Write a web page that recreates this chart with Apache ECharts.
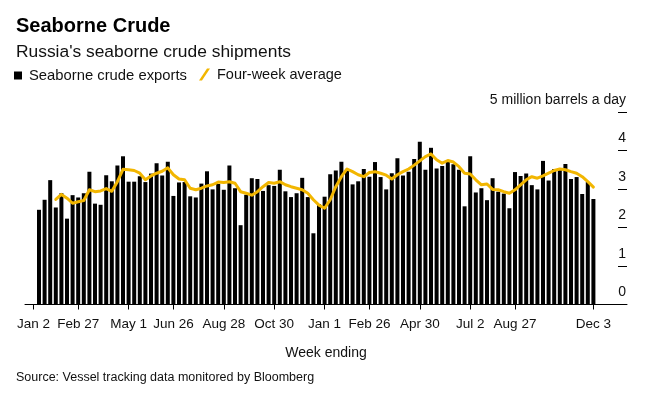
<!DOCTYPE html>
<html>
<head>
<meta charset="utf-8">
<script src="https://cdn.jsdelivr.net/npm/echarts@6/dist/echarts.min.js"></script>
<style>
html,body{margin:0;padding:0;background:#fff;}
#chart{width:648px;height:395px;}
</style>
</head>
<body>
<div id="chart"></div>
<script>
// Week offsets (from Jan 2, 2022) at which date labels are shown
var tickWeeks = [0, 8, 17, 25, 34, 43, 52, 60, 69, 78, 86, 100];
var tickLabels = ['Jan 2', 'Feb 27', 'May 1', 'Jun 26', 'Aug 28', 'Oct 30', 'Jan 1', 'Feb 26', 'Apr 30', 'Jul 2', 'Aug 27', 'Dec 3'];

// Weekly seaborne crude exports (million barrels a day), weeks ending Jan 9 2022 .. Dec 3 2023
var exportsData = [
  2.46, 2.72, 3.23, 2.52, 2.89, 2.23, 2.84, 2.78, 2.89, 3.45,
  2.62, 2.59, 3.36, 3.20, 3.61, 3.85, 3.19, 3.19, 3.33, 3.18,
  3.40, 3.67, 3.35, 3.71, 2.82, 3.17, 3.18, 2.81, 2.78, 3.14,
  3.46, 2.99, 3.13, 2.98, 3.61, 3.02, 2.06, 2.85, 3.28, 3.26,
  2.95, 3.10, 3.08, 3.50, 2.94, 2.79, 2.89, 3.29, 2.79, 1.85,
  2.61, 2.80, 3.38, 3.48, 3.71, 3.50, 3.12, 3.20, 3.52, 3.32,
  3.70, 3.31, 2.99, 3.41, 3.80, 3.35, 3.45, 3.78, 4.23, 3.50,
  4.07, 3.53, 3.60, 3.74, 3.64, 3.50, 2.55, 3.85, 2.91, 3.02,
  2.71, 3.28, 2.93, 2.88, 2.50, 3.44, 3.34, 3.40, 3.10, 2.99,
  3.73, 3.22, 3.52, 3.50, 3.65, 3.26, 3.31, 2.87, 3.18, 2.74
];

// Four-week average (starts at the 4th week)
var avgData = [
  null, null, null, 2.73, 2.86, 2.76, 2.63, 2.67, 2.70, 2.98,
  2.93, 2.95, 3.01, 2.94, 3.19, 3.51, 3.50, 3.48, 3.41, 3.24,
  3.34, 3.41, 3.46, 3.55, 3.37, 3.26, 3.24, 3.02, 2.98, 3.02,
  3.08, 3.11, 3.18, 3.17, 3.19, 3.15, 2.93, 2.89, 2.84, 2.93,
  3.06, 3.17, 3.15, 3.19, 3.11, 3.06, 3.02, 2.98, 2.89, 2.72,
  2.58, 2.50, 2.72, 3.06, 3.32, 3.52, 3.45, 3.37, 3.32, 3.43,
  3.45, 3.41, 3.36, 3.26, 3.37, 3.45, 3.52, 3.62, 3.73, 3.84,
  3.91, 3.76, 3.67, 3.74, 3.70, 3.58, 3.41, 3.39, 3.24, 3.11,
  3.13, 2.99, 2.98, 2.93, 2.89, 2.98, 3.11, 3.24, 3.32, 3.28,
  3.34, 3.41, 3.48, 3.52, 3.50, 3.45, 3.41, 3.32, 3.19, 3.05
];

var FONT = 'Liberation Sans, Arial, Helvetica, sans-serif';

var barSeriesData = exportsData.map(function (v, i) { return [i + 1, v]; });
var lineSeriesData = avgData.map(function (v, i) { return [i + 1, v]; });

var chart = echarts.init(document.getElementById('chart'), null, { renderer: 'canvas' });
chart.setOption({
  animation: false,
  backgroundColor: '#fff',
  textStyle: { fontFamily: FONT },
  title: [
    { text: 'Seaborne Crude', left: 11, top: 11,
      textStyle: { fontSize: 20, fontWeight: 'bold', color: '#000', fontFamily: FONT } },
    { text: "Russia's seaborne crude shipments", left: 11, top: 39,
      textStyle: { fontSize: 17.4, fontWeight: 'normal', color: '#111', fontFamily: FONT } },
    { text: 'Source: Vessel tracking data monitored by Bloomberg', left: 11, top: 366,
      textStyle: { fontSize: 12.5, fontWeight: 'normal', color: '#111', fontFamily: FONT } }
  ],
  legend: [
    { data: ['Seaborne crude exports'], left: 14, top: 68, icon: 'rect',
      itemWidth: 8, itemHeight: 8, padding: 0,
      textStyle: { fontSize: 14.8, color: '#111', fontFamily: FONT, padding: [0, 0, 0, 2] } },
    { data: ['Four-week average'], left: 199, top: 67,
      icon: 'path://M8,0 L11,0 L3,12 L0,12 Z',
      itemWidth: 11, itemHeight: 12, padding: 0,
      textStyle: { fontSize: 14.5, color: '#111', fontFamily: FONT, padding: [0, 0, 0, 2] } }
  ],
  grid: { left: 25, right: 21, top: 112, bottom: 90.5, containLabel: false, outerBoundsMode: 'none' },
  xAxis: {
    type: 'value',
    min: -1.5,
    max: 106,
    name: 'Week ending',
    nameLocation: 'middle',
    nameGap: 42,
    nameTextStyle: { fontSize: 14, color: '#111', fontFamily: FONT },
    splitLine: { show: false },
    axisLine: { show: true, onZero: false, lineStyle: { color: '#000', width: 1 } },
    axisTick: { show: true, length: 5, customValues: tickWeeks, lineStyle: { color: '#000' } },
    axisLabel: {
      customValues: tickWeeks,
      margin: 13,
      fontSize: 13.5,
      color: '#111',
      fontFamily: FONT,
      formatter: function (v) {
        var idx = tickWeeks.indexOf(v);
        return idx >= 0 ? tickLabels[idx] : '';
      }
    }
  },
  yAxis: {
    type: 'value',
    position: 'right',
    min: 0,
    max: 5,
    interval: 1,
    splitLine: { show: false },
    axisLine: { show: false, onZero: false },
    axisTick: { show: true, inside: true, length: 9, lineStyle: { color: '#000' } },
    axisLabel: {
      inside: true,
      margin: 1,
      verticalAlign: 'bottom',
      padding: [0, 0, 5, 0],
      fontSize: 14,
      color: '#111',
      fontFamily: FONT,
      formatter: function (v) { return v === 5 ? '5 million barrels a day' : String(v); }
    }
  },
  series: [
    {
      name: 'Seaborne crude exports',
      type: 'bar',
      data: barSeriesData,
      barWidth: 4,
      itemStyle: { color: '#000' },
      z: 2
    },
    {
      name: 'Four-week average',
      type: 'line',
      data: lineSeriesData,
      showSymbol: false,
      symbol: 'none',
      connectNulls: false,
      lineStyle: { color: '#f2b600', width: 3, join: 'round', cap: 'round' },
      itemStyle: { color: '#f2b600' },
      z: 3
    }
  ]
});
</script>
</body>
</html>
